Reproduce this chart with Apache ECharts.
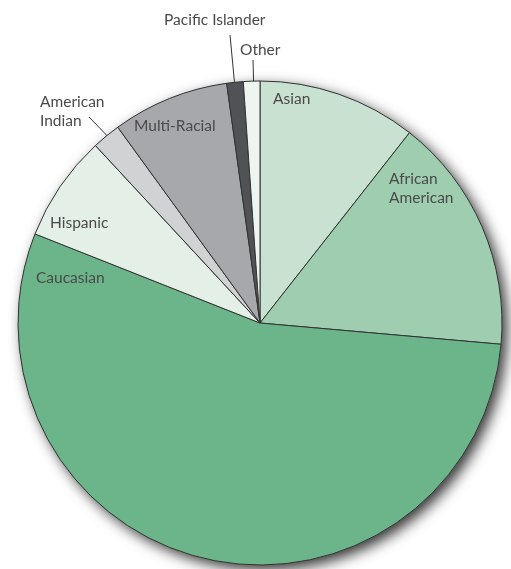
<!DOCTYPE html>
<html><head><meta charset="utf-8">
<script src="https://cdn.jsdelivr.net/npm/echarts@6/dist/echarts.min.js"></script>
<style>html,body{margin:0;padding:0;background:#fff}#c{width:511px;height:569px}</style>
</head><body><div id="c"></div>
<script>
var categories = ['Asian','African\nAmerican','Caucasian','Hispanic','American\nIndian','Multi-Racial','Pacific Islander','Other'];
var values = [10.6, 15.8, 54.6, 7.1, 1.9, 7.8, 1.1, 1.1];
var colors = ['#c8e1d0','#9ecdb0','#6cb489','#e4efe7','#d1d2d4','#a7a8ac','#505255','#eef5f0'];

// label placements (left-aligned text start, vertical middle) and leader lines
var labelPos = [
  {x:273, y:99},
  {x:389, y:188},
  {x:36, y:278},
  {x:50, y:223},
  {x:40, y:111, line:[[89,117],[119,148]]},
  {x:134, y:126},
  {x:164, y:20, line:[[230,35],[235,88]]},
  {x:240, y:50, line:[[253,60],[254,97]]}
];

var data = categories.map(function(c,i){
  return {name:c, value:values[i], itemStyle:{color:colors[i]},
    labelLine:{show: !!labelPos[i].line}};
});

var chart = echarts.init(document.getElementById('c'));
chart.setOption({
  animation:false,
  series:[
    {
      type:'pie', silent:true, center:[260,323], radius:242, z:1,
      label:{show:false}, labelLine:{show:false},
      itemStyle:{color:'#6cb489', shadowBlur:14, shadowColor:'rgba(0,0,0,0.8)', shadowOffsetX:5, shadowOffsetY:5},
      data:[{value:1, name:'bg'}]
    },
    {
      type:'pie', center:[260,323], radius:242, startAngle:90, clockwise:true, z:2,
      avoidLabelOverlap:false,
      itemStyle:{borderColor:'#333', borderWidth:1},
      label:{show:true, position:'outside', color:'#4a4a4a', fontFamily:'Lato', fontSize:15.5, lineHeight:19, align:'left'},
      labelLine:{show:false, lineStyle:{color:'#333', width:1}},
      emphasis:{disabled:true},
      labelLayout:function(p){
        var lp = labelPos[p.dataIndex];
        var r = {x:lp.x, y:lp.y, align:'left', verticalAlign:'middle'};
        if (lp.line) r.labelLinePoints = [lp.line[0], lp.line[1], lp.line[1]];
        return r;
      },
      data:data
    }
  ]
});
</script></body></html>
